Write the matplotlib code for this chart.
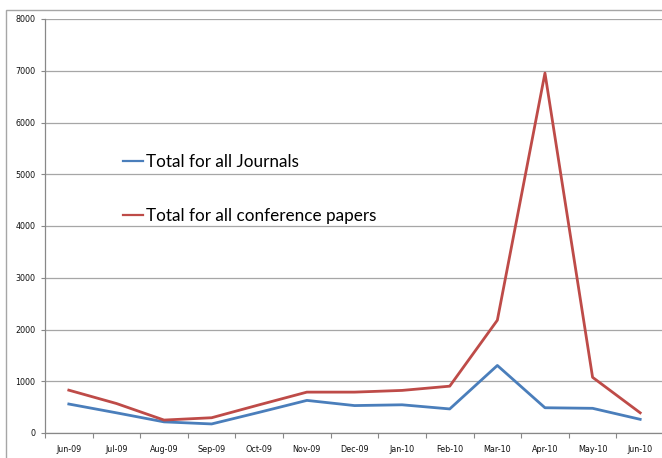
import numpy as np
import matplotlib
matplotlib.use("Agg")
import matplotlib.pyplot as plt
from matplotlib.patches import Rectangle

months = ['Jun-09', 'Jul-09', 'Aug-09', 'Sep-09', 'Oct-09', 'Nov-09', 'Dec-09',
          'Jan-10', 'Feb-10', 'Mar-10', 'Apr-10', 'May-10', 'Jun-10']
journals = [560, 390, 215, 175, 400, 630, 530, 545, 465, 1305, 488, 477, 264]
conference = [828, 570, 250, 295, 545, 790, 790, 823, 905, 2180, 6955, 1076, 390]
yticks = [0, 1000, 2000, 3000, 4000, 5000, 6000, 7000, 8000]

W, H = 662, 458
fig = plt.figure(figsize=(W / 100, H / 100), dpi=100)

# outer chart border (clipped on right/bottom like the screenshot)
fig.patches.append(Rectangle((6 / W, -0.1), 1.2, (H - 10) / H + 0.1,
                             transform=fig.transFigure, fill=False,
                             edgecolor='#a6a6a6', lw=1.0))

ax = fig.add_axes([45 / W, 25 / H, 619 / W, 414 / H])
x = np.arange(len(months))
ax.plot(x, journals, color='#4a7ebb', lw=2.0, label='Total for all Journals')
ax.plot(x, conference, color='#be4b48', lw=2.0, label='Total for all conference papers')

ax.set_xlim(-0.5, len(months) - 0.5)
ax.set_ylim(0, 8000)
ax.set_yticks(yticks)
ax.set_yticklabels([str(v) for v in yticks])
ax.set_xticks(x)
ax.set_xticklabels(months)
ax.set_xticks(np.arange(-0.5, len(months)), minor=True)
ax.tick_params(axis='x', which='major', length=0, pad=9, labelsize=5.8, labelcolor='#111111')
ax.tick_params(axis='x', which='minor', length=3.5, color='#888888', width=0.8)
ax.tick_params(axis='y', length=3, color='#888888', width=0.8, labelsize=5.8,
               labelcolor='#111111', pad=4)

ax.grid(axis='y', color='#a6a6a6', lw=0.9)
ax.set_axisbelow(True)
for s in ['top', 'right']:
    ax.spines[s].set_visible(False)
for s in ['left', 'bottom']:
    ax.spines[s].set_color('#888888')
    ax.spines[s].set_linewidth(0.9)

leg = fig.legend(loc='center left', bbox_to_anchor=(123 / W, (H - 189) / H),
                 frameon=False, prop={'family': 'Lato', 'size': 12.3},
                 handlelength=1.15, handletextpad=0.18, labelspacing=2.2,
                 borderpad=0, borderaxespad=0)
for ln in leg.get_lines():
    ln.set_linewidth(1.6)

fig.savefig('out.png', dpi=100)
